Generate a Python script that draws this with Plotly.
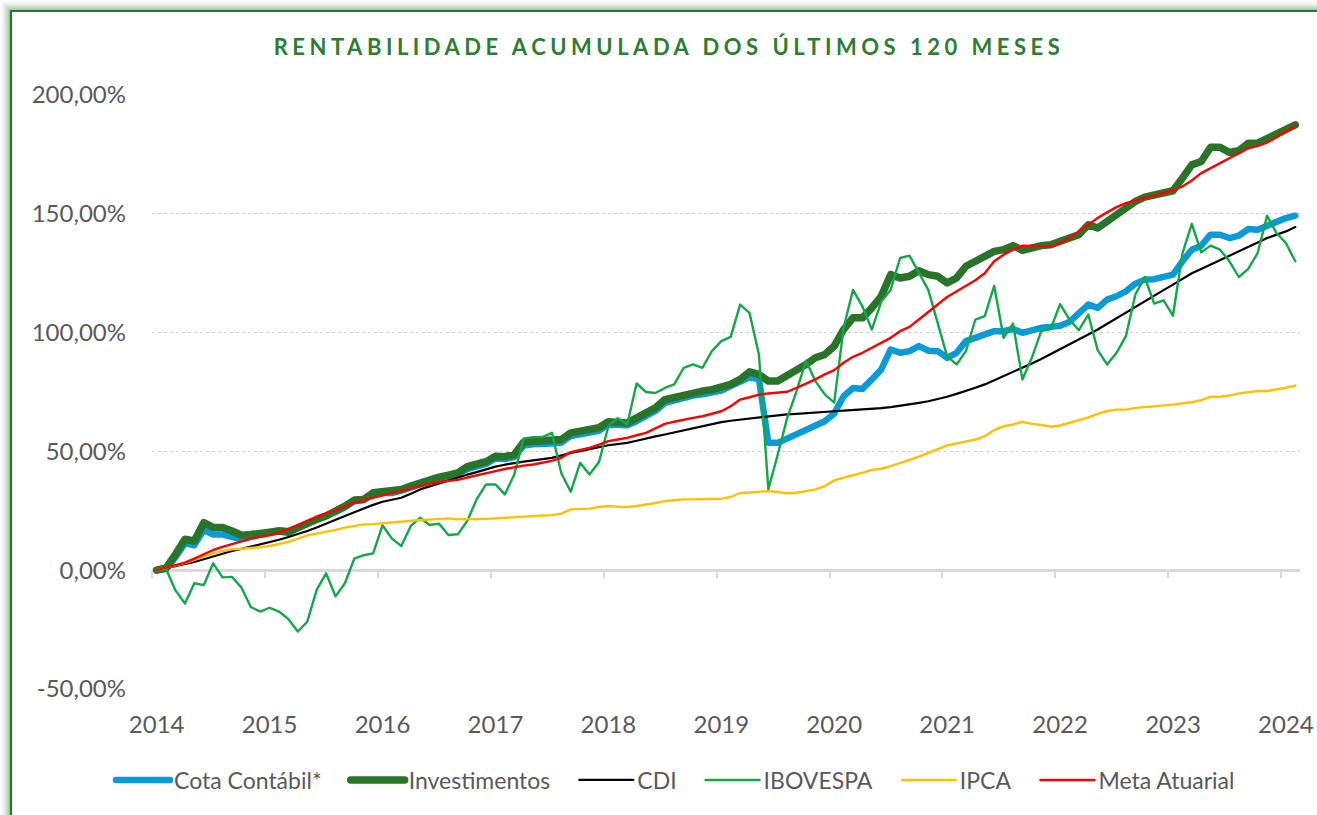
import plotly.graph_objects as go

# ---------------- data ----------------
years = ["2014", "2015", "2016", "2017", "2018", "2019", "2020", "2021", "2022", "2023", "2024"]

cota = [0, 0.5, 5.5, 11.3, 10.5, 17, 15, 15, 14, 13, 14, 15, 16, 16.8, 16.5, 18, 19.5, 21.4, 23, 24.5,
        26.5, 29, 29.5, 32, 32.5, 32.5, 33.5, 35, 36.2, 37.5, 38.5, 39.3, 40.2, 42.5, 43.8, 44.7, 47, 46.8, 47.6, 52.5,
        53, 53, 53.3, 53.7, 56.5, 57.2, 57.8, 58.7, 61.3, 61.3, 61, 62.7, 64.8, 67, 70.4, 71.4, 72.8, 73.5, 74, 74.6,
        75.6, 77.5, 79.6, 81.2, 80.5, 53.6, 53.6, 55.5, 57.4, 59.2, 61.3, 62.7, 66, 73.2, 76.7, 76.3, 80.3, 84.5, 92.9, 91.5,
        92.2, 94.3, 92.4, 92.2, 89.4, 91.5, 96.4, 97.8, 98.5, 100.6, 100.6, 101.5, 99.9, 101.3, 102, 102.4, 102.9, 104.5, 108.3, 111.8,
        110.4, 113.9, 115.3, 117.4, 120.6, 122.3, 122.5, 123.7, 124.4, 130, 134.9, 136.6, 141.2, 141.2, 139.8, 140.8, 143.6, 143.3, 145, 146.1,
        148.2, 149.2]

investimentos = [0, 1, 6.7, 13, 12.3, 20, 18, 18, 16.5, 14.7, 15, 15.3, 16, 16.5, 16, 18, 19.7, 21.4, 22.8, 24.5,
                 27, 29.5, 29.8, 32.6, 33, 33, 34, 35.4, 36.8, 38.2, 39.2, 40, 41, 43.6, 44.8, 45.7, 48, 47.8, 48.7, 53.9,
                 54.3, 54.3, 54.6, 55, 57.8, 58.5, 59, 60, 62.5, 62, 62, 64.1, 66.2, 68.3, 71.8, 72.8, 74.2, 74.9, 75.4, 76,
                 76.7, 78.2, 80.3, 83.5, 82.4, 79.6, 79.6, 81.7, 84, 86.6, 89.4, 90.8, 94.3, 101.3, 106.2, 106.2, 110.4, 115.3, 124.4, 123,
                 123.7, 126, 124.4, 123.7, 120.9, 123, 127.9, 130, 131.4, 134.2, 134.9, 136.6, 134.6, 136, 136.6, 137, 138, 139.8, 141.2, 145.4,
                 144, 146.8, 148.9, 151.7, 155.2, 157, 158, 158.7, 159.7, 165, 170.6, 172, 178, 178, 175.8, 176.6, 179.7, 179.7, 181.8, 183.2,
                 186, 187.4]

cdi = [0, 0.8, 1.7, 2.6, 3.5, 4.6, 5.8, 7, 8.1, 9, 9.9, 10.8, 11.6, 12.8, 14, 15.2, 16.5, 18, 19.5, 21.1,
       22.8, 24.4, 26, 27.5, 28.8, 29.6, 30.5, 32.2, 34, 35.3, 36.6, 37.9, 39.2, 40.2, 41.3, 42.5, 43.6, 44.4, 45.2, 45.7,
       46.2, 46.8, 47.3, 48.3, 49.4, 50.1, 50.8, 51.8, 52.6, 53.1, 53.6, 54.5, 55.5, 56.3, 57.1, 58, 59, 59.8, 60.6, 61.5,
       62.3, 62.9, 63.4, 63.9, 64.4, 64.9, 65.3, 65.6, 65.8, 66, 66.2, 66.5, 66.9, 67.2, 67.4, 67.6, 67.9, 68.2, 68.6, 69.1,
       69.7, 70.4, 71.1, 72, 73, 74.2, 75.4, 76.8, 78.2, 79.9, 81.7, 83.4, 85.2, 87, 88.9, 90.9, 92.9, 95, 97, 99.2,
       101.3, 103.7, 106.2, 108.5, 110.8, 113.1, 115.5, 117.9, 120.2, 122.6, 125, 126.8, 128.6, 130.5, 132.4, 134.2, 136, 137.9, 139.8, 141.2,
       142.6, 144.4]

ibovespa = [0, 0.5, -8.5, -14, -5.5, -6.3, 2.9, -3, -2.8, -7.3, -15.5, -17.4, -15.8, -17.4, -20.6, -25.8, -21.7, -8.3, -1.3, -11,
            -5.5, 4.9, 6.3, 7.1, 18.9, 13.3, 10.2, 18.6, 22.1, 19, 19.6, 14.8, 15.1, 20.7, 29.8, 36.1, 36.1, 31.9, 40.3, 55.5,
            56, 56, 57.8, 40.8, 33, 45.2, 40.3, 45.5, 60.6, 64, 61.3, 78.6, 75, 74.6, 76.7, 78.2, 85.2, 86.6, 85.2, 92.2,
            96.4, 98.2, 111.8, 108.3, 90.8, 34, 48.7, 64, 75.4, 88.2, 79.6, 74, 70.5, 102, 118, 111, 101.3, 113, 118, 131.4,
            132.4, 125, 118, 104, 90, 86.6, 92.2, 105.5, 106.9, 119.7, 97.8, 103.8, 80.3, 89.4, 100.6, 101.5, 112, 105.5, 101, 107.6,
            92.6, 86.6, 91.5, 98.5, 116, 123.4, 112.2, 113.6, 107.1, 133.2, 145.8, 133.8, 136.6, 134.9, 130, 123.4, 126.8, 133.5, 149.2, 141.9,
            137.7, 130]

ipca = [0, 0.9, 1.8, 3, 4.3, 5.7, 7.1, 8, 8.8, 9, 9.2, 9.7, 10.2, 11, 11.9, 13.3, 14.7, 15.4, 16.1, 17,
        17.9, 18.6, 19.3, 19.4, 19.8, 20, 20.3, 20.7, 21.1, 21.3, 21.4, 21.8, 21.4, 21.4, 21.5, 21.6, 21.8, 22.1, 22.4, 22.6,
        22.8, 23, 23.2, 23.8, 25.6, 25.7, 25.9, 26.6, 27, 26.7, 26.6, 27, 27.5, 28.3, 29.1, 29.5, 29.8, 29.8, 29.8, 29.9,
        30.1, 30.8, 32.5, 32.7, 33, 33.3, 32.9, 32.4, 32.6, 33.3, 34, 35.4, 37.8, 39, 39.9, 41, 42.2, 42.7, 43.8, 45,
        46.4, 47.8, 49.4, 51.1, 52.5, 53.4, 54.3, 55, 56.4, 59, 60.6, 61.3, 62.5, 61.6, 61.1, 60.4, 60.9, 62, 63, 64.3,
        65.8, 67, 67.6, 67.6, 68.3, 68.6, 69, 69.3, 69.7, 70.2, 70.7, 71.6, 73, 73, 73.5, 74.4, 74.9, 75.4, 75.4, 76,
        76.8, 77.7]

meta_atuarial = [0, 1, 2, 3.2, 4.9, 6.7, 8.5, 9.8, 11, 12.3, 13.3, 14, 14.7, 15.8, 17.2, 18.9, 20.7, 22.5, 24, 25.2,
                 26.8, 28.4, 29.5, 30.5, 31.5, 32.3, 33.3, 34.4, 35.4, 36.3, 37.1, 37.6, 38, 39, 40, 40.8, 41.7, 42.6, 43.4, 44,
                 44.5, 45.2, 46, 47.3, 49.7, 50.6, 51.5, 52.9, 54.3, 55, 55.7, 56.8, 57.8, 59.7, 61.6, 62.5, 63.4, 64.1, 64.8, 65.8,
                 66.9, 69, 71.8, 72.8, 73.9, 74.4, 74.9, 75.1, 76.7, 78.4, 80.3, 82.4, 84.2, 87.3, 89.8, 91.5, 93.6, 95.9, 97.8, 100.6,
                 102.4, 105.5, 108.5, 111.8, 115, 117.4, 119.5, 122, 125, 130, 132.8, 134.9, 136.6, 136.6, 136.3, 136.3, 137.7, 139.8, 142.6, 145.4,
                 148.2, 150.6, 152.8, 154.5, 155.6, 156.6, 157.6, 158.7, 159.8, 161.5, 164, 167.1, 169.2, 171.3, 173.4, 175.5, 177.6, 178.6, 180, 182.2,
                 184.6, 187]

y_tick_vals = [-50, 0, 50, 100, 150, 200]
y_tick_text = ["-50,00%", "0,00%", "50,00%", "100,00%", "150,00%", "200,00%"]

title_text = "RENTABILIDADE ACUMULADA DOS ÚLTIMOS 120 MESES"

# ---------------- layout geometry ----------------
W, H = 1317, 815
ML, MR, MT, MB = 152, 17, 95, 126
PW, PH = W - ML - MR, H - MT - MB


def pxx(xp):
    return (xp - ML) / PW


def pxy(yp):
    return (H - MB - yp) / PH


n = len(cota)
x = list(range(n))
year_pos = [12 * k for k in range(len(years))]
tick_marks = [p - 0.5 for p in year_pos]
y_min, y_max = y_tick_vals[0], y_tick_vals[-1]

series = [
    ("Cota Contábil*", cota, "#0A9BD6", 6.5),
    ("Investimentos", investimentos, "#2A7429", 7.5),
    ("CDI", cdi, "#000000", 2.2),
    ("IBOVESPA", ibovespa, "#12A84A", 2.4),
    ("IPCA", ipca, "#FFC000", 2.4),
    ("Meta Atuarial", meta_atuarial, "#FF0000", 2.4),
]

fig = go.Figure()
for name, vals, color, width in series:
    fig.add_trace(go.Scatter(x=x, y=vals, name=name, mode="lines",
                             line=dict(color=color, width=width),
                             hoverinfo="skip"))
# empty trace to host the tick-mark axis at the zero line
fig.add_trace(go.Scatter(x=[], y=[], xaxis="x2", yaxis="y", showlegend=False, hoverinfo="skip"))

label_font = dict(family="Lato", size=24, color="#595959")

fig.update_layout(
    width=W, height=H,
    margin=dict(l=ML, r=MR, t=MT, b=MB, autoexpand=False),
    paper_bgcolor="white", plot_bgcolor="white",
    title=dict(text=title_text, x=669 / W, xref="container", xanchor="center",
               y=1 - 47 / H, yref="container", yanchor="middle",
               font=dict(family="Lato", size=22, color="#2E7D32", weight="bold")),
    xaxis=dict(range=[-0.5, n - 0.5], tickvals=year_pos, ticktext=years,
               showgrid=False, zeroline=False, showline=False, ticks="",
               tickfont=label_font, ticklabelstandoff=19, automargin=False),
    xaxis2=dict(range=[-0.5, n - 0.5], overlaying="x", anchor="free",
                position=(0 - y_min) / (y_max - y_min), side="bottom",
                tickvals=tick_marks, showticklabels=False, ticks="outside",
                ticklen=7, tickwidth=2, tickcolor="#D9D9D9",
                showgrid=False, zeroline=False, showline=False, automargin=False),
    yaxis=dict(range=[y_min, y_max], tickvals=y_tick_vals, ticktext=y_tick_text,
               showgrid=True, gridcolor="#D0D0D0", gridwidth=1, griddash="dot",
               zeroline=True, zerolinecolor="#D9D9D9", zerolinewidth=2.5,
               showline=False, ticks="", tickfont=label_font,
               ticklabelstandoff=25, automargin=False),
    legend=dict(orientation="h", x=pxx(666), xanchor="center",
                y=pxy(780), yanchor="middle",
                font=dict(family="Lato", size=23, color="#595959"),
                itemwidth=72, bgcolor="rgba(0,0,0,0)"),
    showlegend=True,
)

# green frame with a soft glow (left and top edges visible)
frame_x0, frame_y0 = 11, 11
shapes = []
for d in range(10, 0, -1):
    a = 0.42 * (1 - d / 11) ** 1.6
    shapes.append(dict(type="rect", xref="paper", yref="paper",
                       x0=pxx(frame_x0 - d), x1=pxx(W + 40), y0=pxy(H + 40), y1=pxy(frame_y0 - d),
                       line=dict(color=f"rgba(70,140,70,{a:.3f})", width=1.6),
                       fillcolor="rgba(0,0,0,0)", layer="above"))
shapes.append(dict(type="rect", xref="paper", yref="paper",
                   x0=pxx(frame_x0), x1=pxx(W + 40), y0=pxy(H + 40), y1=pxy(frame_y0),
                   line=dict(color="#2A742E", width=2.2),
                   fillcolor="rgba(0,0,0,0)", layer="above"))
fig.update_layout(shapes=shapes)

post = """
document.body.style.margin='0';
document.body.style.overflow='hidden';
var st=document.createElement('style');
st.innerHTML='.scatterlayer .js-line{stroke-linejoin:round;stroke-linecap:round}';
document.head.appendChild(st);
document.querySelectorAll('.gtitle').forEach(function(e){e.setAttribute('letter-spacing','4.5px');});
document.querySelectorAll('.legend .legendlines path').forEach(function(p){p.setAttribute('d','M24,0h54');p.style.strokeLinecap='round';});
"""
fig.write_html("out.html", post_script=post, config={"displayModeBar": False})
